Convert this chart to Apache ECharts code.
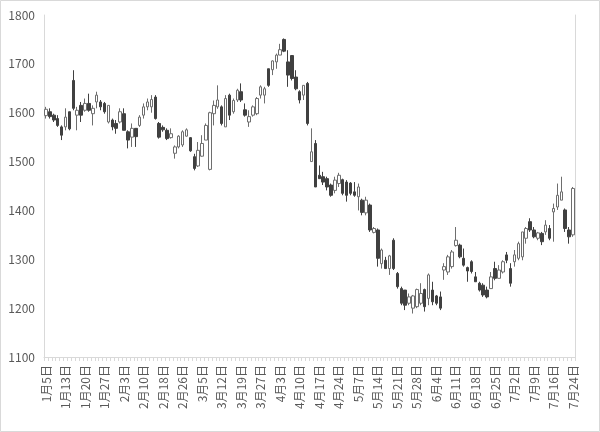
<!DOCTYPE html>
<html>
<head>
<meta charset="utf-8">
<script src="https://cdn.jsdelivr.net/npm/echarts@6/dist/echarts.min.js"></script>
<style>
html,body{margin:0;padding:0;background:#fff;}
#c{width:600px;height:432px;}
</style>
</head>
<body>
<div id="c"></div>
<script>
const dates = [
 '1月5日','1月6日','1月7日','1月8日','1月9日','1月13日','1月14日','1月15日','1月16日','1月19日',
 '1月20日','1月21日','1月22日','1月23日','1月26日','1月27日','1月28日','1月29日','1月30日','2月2日',
 '2月3日','2月4日','2月5日','2月6日','2月9日','2月10日','2月12日','2月13日','2月16日','2月17日',
 '2月18日','2月19日','2月20日','2月24日','2月25日','2月26日','2月27日','3月2日','3月3日','3月4日',
 '3月5日','3月6日','3月9日','3月10日','3月11日','3月12日','3月13日','3月16日','3月17日','3月18日',
 '3月19日','3月20日','3月24日','3月25日','3月26日','3月27日','3月30日','3月31日','4月1日','4月2日',
 '4月3日','4月6日','4月7日','4月8日','4月9日','4月10日','4月13日','4月14日','4月15日','4月16日',
 '4月17日','4月20日','4月21日','4月22日','4月23日','4月24日','4月27日','4月28日','4月30日','5月1日',
 '5月7日','5月8日','5月11日','5月12日','5月13日','5月14日','5月15日','5月18日','5月19日','5月20日',
 '5月21日','5月22日','5月25日','5月26日','5月27日','5月28日','5月29日','6月1日','6月2日','6月3日',
 '6月4日','6月5日','6月8日','6月9日','6月10日','6月11日','6月12日','6月15日','6月16日','6月17日',
 '6月18日','6月19日','6月22日','6月23日','6月24日','6月25日','6月26日','6月29日','6月30日','7月1日',
 '7月2日','7月3日','7月6日','7月7日','7月8日','7月9日','7月10日','7月13日','7月14日','7月15日',
 '7月16日','7月17日','7月21日','7月22日','7月23日','7月24日'
];
const opens = [
 1594,1602,1595,1588,1571,1571,1602,1666,1595,1615,1605,1619,1598,1622,1622,1619,1581,1585,1578,1581,
 1598,1561,1550,1568,1574,1595,1612,1612,1632,1578,1570,1564,1549,1517,1530,1534,1552,1549,1510,1491,
 1511,1544,1484,1598,1612,1612,1571,1636,1602,1626,1643,1606,1581,1595,1598,1636,1636,1690,1688,1704,
 1718,1750,1704,1717,1673,1643,1636,1660,1500,1537,1472,1469,1465,1452,1441,1455,1463,1458,1456,1438,
 1428,1421,1395,1411,1355,1360,1291,1298,1281,1339,1271,1240,1237,1210,1200,1203,1210,1238,1220,1237,
 1225,1223,1278,1274,1285,1328,1329,1302,1283,1295,1264,1251,1247,1237,1240,1281,1261,1274,1309,1281,
 1295,1302,1305,1343,1377,1360,1343,1353,1356,1363,1397,1407,1421,1401,1360,1350
];
const closes = [
 1607,1592,1585,1574,1554,1591,1567,1609,1605,1595,1619,1605,1609,1636,1612,1602,1615,1571,1568,1602,
 1564,1544,1568,1551,1591,1612,1622,1627,1588,1550,1565,1547,1557,1530,1552,1561,1565,1522,1486,1523,
 1537,1574,1600,1615,1626,1578,1629,1595,1625,1646,1626,1595,1592,1612,1629,1653,1649,1656,1706,1718,
 1729,1726,1677,1670,1649,1626,1656,1578,1520,1448,1465,1458,1448,1431,1462,1472,1435,1431,1435,1431,
 1448,1396,1421,1360,1363,1302,1319,1281,1307,1281,1244,1210,1206,1223,1225,1238,1230,1203,1268,1213,
 1210,1200,1285,1305,1315,1339,1305,1288,1276,1275,1254,1237,1227,1223,1264,1261,1278,1295,1298,1251,
 1309,1332,1356,1363,1360,1346,1354,1336,1370,1343,1404,1431,1438,1363,1346,1445
];
const lows = [
 1588,1588,1581,1571,1544,1564,1564,1605,1564,1581,1602,1602,1574,1609,1605,1598,1578,1564,1557,1578,
 1564,1527,1530,1530,1571,1588,1605,1600,1586,1547,1561,1544,1547,1506,1527,1530,1551,1520,1482,1489,
 1510,1544,1482,1574,1608,1574,1571,1585,1598,1622,1622,1592,1571,1592,1595,1629,1619,1653,1677,1690,
 1718,1724,1653,1666,1646,1619,1626,1574,1500,1448,1465,1452,1441,1428,1435,1448,1431,1418,1431,1428,
 1400,1390,1390,1356,1353,1285,1281,1281,1268,1278,1240,1206,1196,1206,1189,1200,1206,1193,1206,1206,
 1206,1196,1258,1268,1281,1326,1302,1285,1254,1271,1254,1234,1223,1220,1240,1257,1261,1271,1292,1244,
 1285,1298,1298,1332,1356,1343,1339,1329,1350,1339,1336,1401,1421,1356,1332,1346
];
const highs = [
 1612,1609,1598,1595,1574,1609,1602,1687,1612,1622,1629,1639,1615,1643,1626,1622,1615,1588,1585,1609,
 1609,1564,1578,1568,1595,1619,1629,1636,1636,1581,1574,1568,1568,1533,1554,1564,1568,1550,1516,1540,
 1554,1578,1602,1625,1656,1615,1636,1639,1629,1649,1660,1619,1605,1615,1632,1656,1653,1690,1707,1721,
 1741,1752,1728,1718,1687,1646,1656,1663,1568,1544,1492,1479,1469,1455,1469,1477,1465,1462,1458,1458,
 1455,1424,1428,1414,1366,1363,1322,1305,1309,1343,1274,1244,1237,1230,1227,1240,1251,1240,1271,1254,
 1227,1234,1292,1309,1319,1366,1332,1322,1285,1298,1274,1254,1251,1244,1274,1295,1288,1298,1315,1292,
 1319,1336,1356,1366,1384,1366,1356,1356,1380,1370,1414,1455,1469,1404,1366,1448
];
const yTicks = {min: 1100, max: 1800, interval: 100};

const ohlc = opens.map((o, i) => [o, closes[i], lows[i], highs[i]]);

const chart = echarts.init(document.getElementById('c'), null, {renderer: 'canvas'});
const font = "'Noto Sans CJK JP','Noto Sans',sans-serif";
chart.setOption({
  animation: false,
  backgroundColor: '#ffffff',
  graphic: [{
    type: 'rect', silent: true, z: -1,
    shape: {x: 0.5, y: 0.5, width: 599, height: 431},
    style: {fill: 'none', stroke: '#d9d9d9', lineWidth: 1}
  }],
  grid: {left: 44, right: 25, top: 15, bottom: 75, containLabel: false},
  xAxis: {
    type: 'category',
    data: dates,
    boundaryGap: true,
    axisLine: {show: true, lineStyle: {color: '#d9d9d9', width: 1}},
    axisTick: {show: true, interval: 0, length: 4, lineStyle: {color: '#d9d9d9'}},
    axisLabel: {interval: 4, rotate: 90, margin: 8, fontSize: 12, color: '#595959', fontFamily: font},
    splitLine: {show: false}
  },
  yAxis: [{
    type: 'value',
    min: yTicks.min, max: yTicks.max, interval: yTicks.interval,
    axisLine: {show: true, lineStyle: {color: '#d9d9d9', width: 1}},
    axisTick: {show: false},
    axisLabel: {margin: 9, fontSize: 12, color: '#595959', fontFamily: font, formatter: v => String(v)},
    splitLine: {show: false}
  }, {
    type: 'value', position: 'right',
    min: yTicks.min, max: yTicks.max, interval: yTicks.interval,
    axisLine: {show: true, lineStyle: {color: '#d9d9d9', width: 1}},
    axisTick: {show: false}, axisLabel: {show: false}, splitLine: {show: false}
  }],
  series: [{
    type: 'candlestick',
    data: ohlc,
    barWidth: 3,
    itemStyle: {
      color: '#ffffff', color0: '#404040',
      borderColor: '#6e6e6e', borderColor0: '#404040',
      borderWidth: 1
    }
  }]
});
</script>
</body>
</html>
